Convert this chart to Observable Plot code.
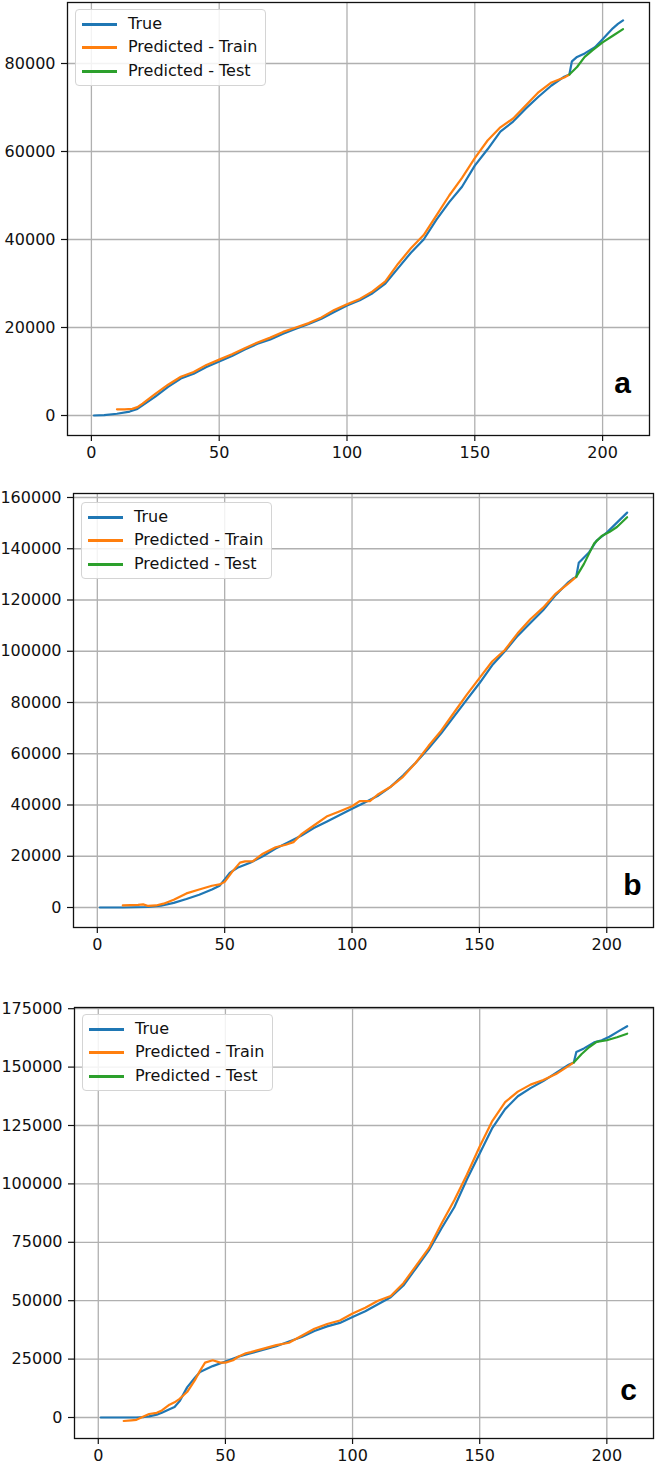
<!DOCTYPE html>
<html>
<head>
<meta charset="utf-8">
<script src="https://cdn.jsdelivr.net/npm/d3@7"></script>
<script src="https://cdn.jsdelivr.net/npm/@observablehq/plot@0.6"></script>
<style>
  html, body { margin: 0; padding: 0; background: #fff; }
  #page { position: relative; width: 657px; height: 1465px; overflow: hidden; font-family: "DejaVu Sans", sans-serif; }
  .panel { position: absolute; left: 0; }
  .legend { position: absolute; border: 1px solid #d4d4d4; border-radius: 4px; background: rgba(255,255,255,0.85); box-sizing: border-box; }
  .lrow { position: absolute; left: 0; height: 0; }
  .lline { position: absolute; left: 6px; width: 35px; height: 3px; top: -1px; }
  .ltext { position: absolute; left: 52px; top: -10px; font-size: 16px; line-height: 20px; white-space: nowrap; color: #111; }
</style>
</head>
<body>
<div id="page"></div>
<script>
const seriesNames = ["True", "Predicted - Train", "Predicted - Test"];
const seriesColors = ["#1f77b4", "#ff7f0e", "#2ca02c"];
const panelLabels = ["a", "b", "c"];
const xTicks = [0, 50, 100, 150, 200];
const yTicksA = [0, 20000, 40000, 60000, 80000];
const yTicksB = [0, 20000, 40000, 60000, 80000, 100000, 120000, 140000, 160000];
const yTicksC = [0, 25000, 50000, 75000, 100000, 125000, 150000, 175000];

// Panel a: [day, cumulative count]
const aTrue = [[1,0],[5,100],[10,400],[15,900],[18,1500],[20,2300],[25,4300],[30,6500],[35,8400],[40,9500],[45,11000],[50,12300],[55,13500],[60,15000],[65,16300],[70,17300],[75,18600],[80,19700],[85,20800],[90,22000],[95,23500],[100,25000],[105,26200],[110,27800],[115,30000],[120,33500],[125,37000],[130,40000],[135,44500],[140,48500],[145,52000],[150,56800],[155,60500],[160,64500],[165,66800],[170,69800],[175,72500],[180,75000],[185,77000],[187,77500],[188,80500],[190,81500],[193,82300],[197,83700],[200,85500],[204,88000],[206,89000],[208,89800]];
const aTrain = [[10,1400],[13,1400],[16,1500],[18,1900],[20,2700],[25,4900],[30,7000],[35,8800],[40,9900],[45,11500],[50,12700],[55,13900],[60,15300],[65,16600],[70,17700],[75,19000],[80,20000],[85,21000],[90,22300],[95,24000],[100,25300],[105,26500],[110,28200],[115,30500],[120,34500],[125,38000],[130,41000],[135,45500],[140,50000],[145,54000],[150,58500],[155,62500],[160,65500],[165,67500],[170,70500],[175,73500],[180,75700],[185,76800],[187,77500]];
const aTest = [[187,77500],[190,79200],[193,81500],[196,83000],[200,84800],[204,86300],[208,87800]];

// Panel b
const bTrue = [[1,0],[10,0],[15,100],[20,200],[25,700],[30,1800],[35,3300],[40,5000],[45,7000],[48,8500],[50,11000],[52,13500],[55,15500],[60,17500],[65,20000],[70,23000],[75,25500],[80,28000],[85,31000],[90,33500],[95,36000],[100,38500],[105,41000],[110,43500],[115,47000],[120,51500],[125,56500],[130,62000],[135,68000],[140,74500],[145,81000],[150,87500],[155,94500],[160,100000],[165,106000],[170,111000],[175,116000],[180,122000],[185,127000],[187,128500],[188,129000],[189,134500],[190,135500],[193,138500],[196,143200],[200,146300],[204,150200],[208,154100]];
const bTrain = [[10,800],[13,900],[16,1000],[18,1200],[20,600],[23,800],[26,1500],[30,3000],[35,5500],[40,7000],[45,8500],[48,9000],[50,10000],[53,14000],[56,17500],[58,18000],[61,18000],[65,21000],[70,23500],[74,24500],[77,25500],[80,28500],[85,32000],[90,35500],[95,37500],[100,39500],[103,41500],[107,41500],[110,44000],[115,47000],[120,51000],[125,56500],[130,63000],[135,69000],[140,76000],[145,83000],[150,89500],[155,96000],[160,100500],[165,107000],[170,112500],[175,117000],[180,122500],[185,126500],[188,129000]];
const bTest = [[188,129000],[191,134000],[193,138000],[195,142000],[198,145000],[201,146500],[204,148500],[208,152300]];

// Panel c
const cTrue = [[1,0],[10,0],[15,0],[18,200],[20,500],[23,1200],[25,2000],[28,3500],[30,4500],[32,7000],[35,13000],[38,17000],[40,19500],[45,22000],[50,24000],[55,26000],[60,27500],[65,29000],[70,30500],[75,32500],[80,34500],[85,37000],[90,39000],[95,40500],[100,43000],[105,45500],[110,48500],[115,51500],[120,56500],[125,64000],[130,71500],[135,81000],[140,90000],[145,102000],[150,113000],[155,124000],[160,132000],[165,137500],[170,141000],[175,144000],[180,147500],[185,151000],[187,152000],[188,156500],[191,158000],[195,160600],[198,161500],[201,163000],[205,165600],[208,167500]];
const cTrain = [[10,-1500],[13,-1200],[15,-1000],[18,500],[20,1500],[23,2000],[25,3000],[28,5500],[30,6500],[32,8000],[35,11000],[38,16000],[40,20000],[42,23500],[45,24500],[48,23500],[50,23500],[53,24500],[55,26000],[58,27500],[60,28000],[65,29500],[70,31000],[75,32000],[80,35000],[85,38000],[90,40000],[95,41500],[100,44500],[105,47000],[110,50000],[115,52000],[120,57500],[125,65000],[130,72500],[135,83000],[140,93000],[145,104000],[150,116000],[155,127000],[160,135000],[165,139500],[170,142500],[175,144500],[180,147000],[185,150500],[187,152000]];
const cTest = [[187,152000],[190,155500],[193,158500],[196,160800],[200,161500],[204,162800],[208,164300]];

const page = document.getElementById("page");
const fmt = d => String(d);

function rowsOf(trueD, trainD, testD) {
  const rows = [];
  [trueD, trainD, testD].forEach((arr, i) => arr.forEach(([x, y]) => rows.push({x, y, series: seriesNames[i]})));
  return rows;
}

function makePanel(cfg) {
  const rows = rowsOf(cfg.trueD, cfg.trainD, cfg.testD);
  const grid = {stroke: "#b0b0b0", strokeOpacity: 1, strokeWidth: 1.3};
  const chart = Plot.plot({
    width: 657,
    height: cfg.height,
    marginTop: cfg.mt, marginRight: cfg.mr, marginBottom: cfg.mb, marginLeft: cfg.ml,
    style: {fontFamily: "DejaVu Sans", fontSize: "16px", color: "#111", background: "white", overflow: "visible"},
    x: {domain: [-9.35, 218.35], label: null},
    y: {domain: cfg.yDomain, label: null},
    color: {domain: seriesNames, range: seriesColors},
    marks: [
      Plot.gridX(xTicks, grid),
      Plot.gridY(cfg.yTicks, grid),
      Plot.axisX(xTicks, {tickSize: 6, tickPadding: 5, tickFormat: fmt, fontSize: 16, stroke: "#111", strokeWidth: 1.2, label: null}),
      Plot.axisY(cfg.yTicks, {tickSize: 6, tickPadding: 6, tickFormat: fmt, fontSize: 16, stroke: "#111", strokeWidth: 1.2, label: null}),
      Plot.line(rows, {x: "x", y: "y", z: "series", stroke: "series", strokeWidth: 2.2, strokeLinejoin: "round"}),
      Plot.frame({stroke: "#111", strokeWidth: 1.3}),
      Plot.text([cfg.label], {frameAnchor: "bottom-right", dx: cfg.ldx, dy: cfg.ldy, text: d => d, fontSize: 30, fontWeight: "bold", fontFamily: "Liberation Sans", fill: "#000", textAnchor: "middle", lineAnchor: "middle"})
    ]
  });
  const wrap = document.createElement("div");
  wrap.className = "panel";
  wrap.style.top = cfg.top + "px";
  wrap.appendChild(chart);
  page.appendChild(wrap);

  const lg = document.createElement("div");
  lg.className = "legend";
  lg.style.left = cfg.legend[0] + "px";
  lg.style.top = cfg.legend[1] + "px";
  lg.style.width = "191px";
  lg.style.height = "77px";
  [14, 37, 61].forEach((off, i) => {
    const r = document.createElement("div");
    r.className = "lrow";
    r.style.top = off + "px";
    const ln = document.createElement("div");
    ln.className = "lline";
    ln.style.background = seriesColors[i];
    const tx = document.createElement("div");
    tx.className = "ltext";
    tx.textContent = seriesNames[i];
    r.appendChild(ln); r.appendChild(tx);
    lg.appendChild(r);
  });
  page.appendChild(lg);
}

makePanel({trueD: aTrue, trainD: aTrain, testD: aTest, top: 0, height: 488, mt: 2, mr: 8, mb: 53, ml: 67,
  yDomain: [-4545, 93864], yTicks: yTicksA, label: panelLabels[0], ldx: -27, ldy: -52, legend: [75, 9]});
makePanel({trueD: bTrue, trainD: bTrain, testD: bTest, top: 488, height: 488, mt: 5, mr: 4, mb: 49, ml: 73,
  yDomain: [-7805, 161560], yTicks: yTicksB, label: panelLabels[1], ldx: -21, ldy: -42, legend: [81, 502]});
makePanel({trueD: cTrue, trainD: cTrain, testD: cTest, top: 976, height: 489, mt: 31, mr: 4, mb: 27, ml: 74,
  yDomain: [-8990, 175514], yTicks: yTicksC, label: panelLabels[2], ldx: -25, ldy: -48, legend: [82, 1014]});
</script>
</body>
</html>
